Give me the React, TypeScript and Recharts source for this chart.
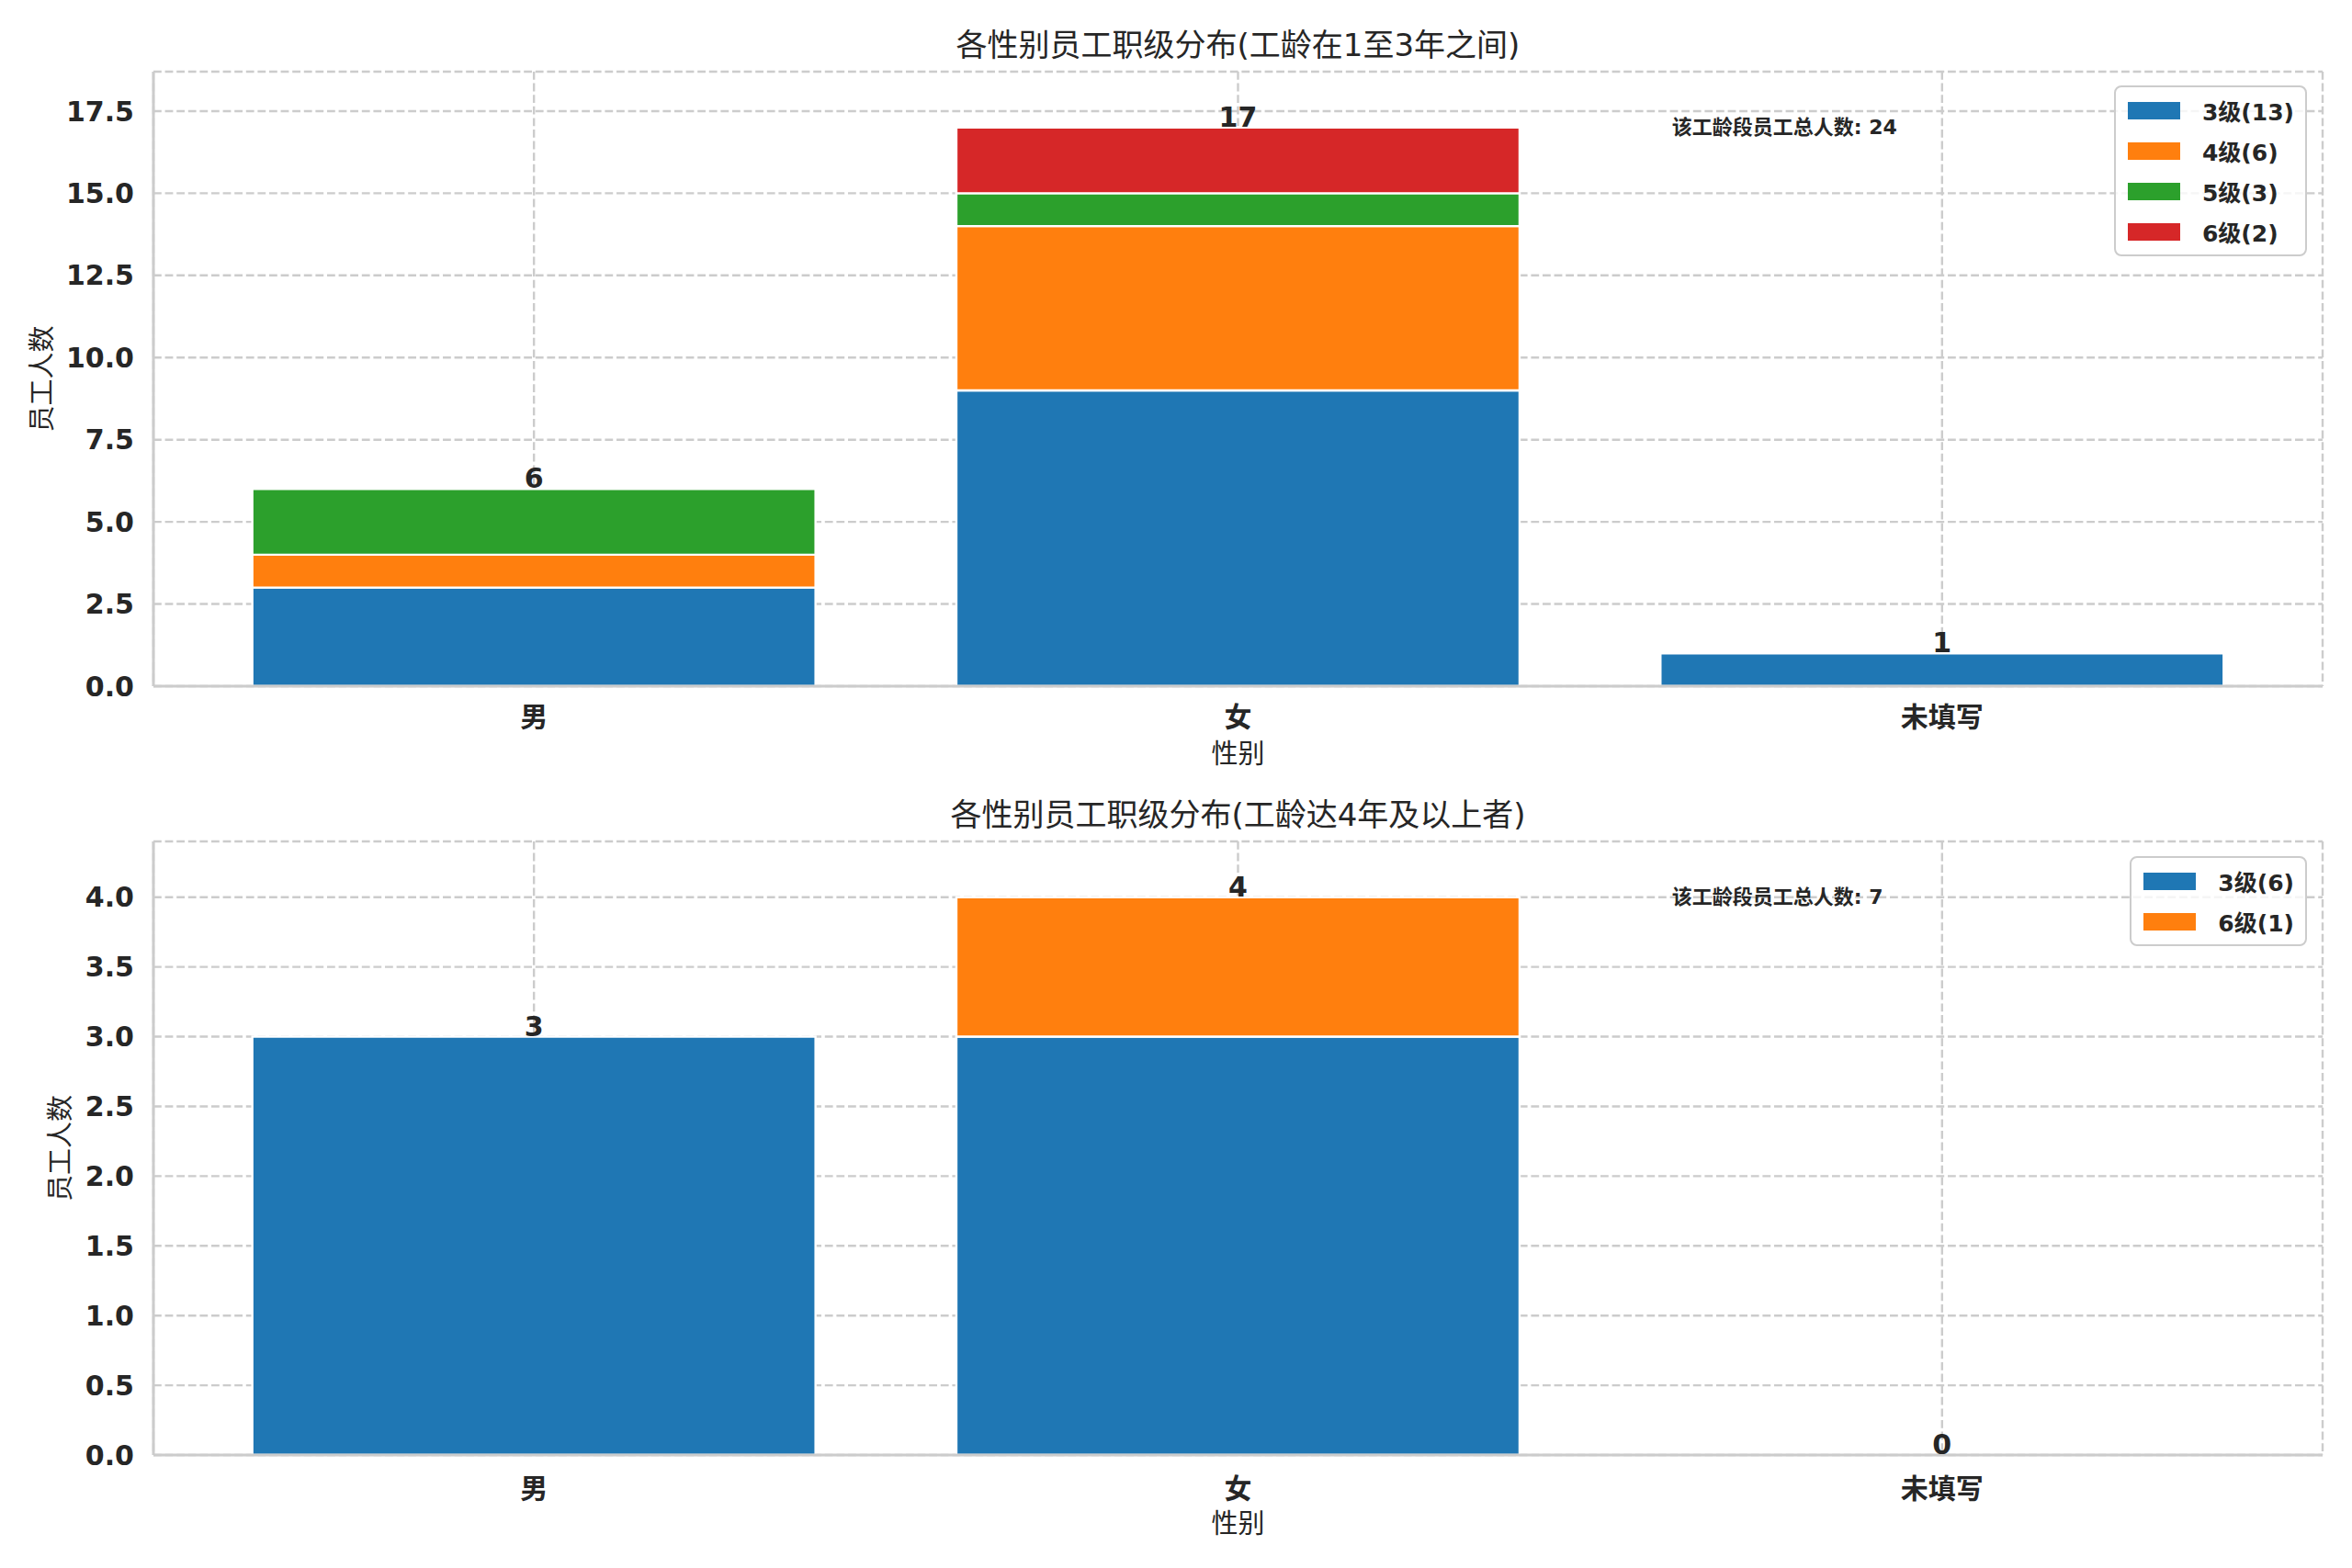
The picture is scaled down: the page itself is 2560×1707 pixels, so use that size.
import React from "react";
import { Bar, BarChart, CartesianGrid, Label, LabelList, Legend, ReferenceLine, XAxis, YAxis } from "recharts";

document.body.style.margin = "0";

const FONT = '"DejaVu Sans", "Noto Sans CJK SC", sans-serif';
const INK = "#262626";
const GRID = "#cccccc";
const PALETTE = ["#1f77b4", "#ff7f0e", "#2ca02c", "#d62728"];
const W = 2560;
const PLOT_LEFT = 167;
const RIGHT = 32;

const genders = ["男", "女", "未填写"];

// 工龄 1-3 年
const levelsA = ["3级", "4级", "5级", "6级"];
const countsA = [
  [3, 9, 1],
  [1, 5, 0],
  [2, 1, 0],
  [0, 2, 0],
];
const ticksA = [0, 2.5, 5, 7.5, 10, 12.5, 15, 17.5];

// 工龄 4 年及以上
const levelsB = ["3级", "6级"];
const countsB = [
  [3, 3, 0],
  [0, 1, 0],
];
const ticksB = [0, 0.5, 1, 1.5, 2, 2.5, 3, 3.5, 4];

function LegendBox({ payload }: any) {
  const items = (payload || []).filter((p: any) => p.type !== "none" && p.dataKey !== "cap");
  return (
    <div
      style={{
        background: "rgba(255,255,255,0.8)",
        border: `2.4px solid ${GRID}`,
        borderRadius: 8,
        padding: "3px 12px 3px 13px",
        fontFamily: FONT,
      }}
    >
      {items.map((p: any) => (
        <div key={p.value} style={{ display: "flex", alignItems: "center", height: 44 }}>
          <span style={{ width: 57, height: 19, background: p.color, marginRight: 24, flex: "none" }} />
          <span style={{ fontSize: 25, fontWeight: "bold", color: INK, whiteSpace: "nowrap" }}>{p.value}</span>
        </div>
      ))}
    </div>
  );
}

function TotalLabel({ x, y, width, value }: any) {
  return (
    <text x={x + width / 2} y={y - 1} textAnchor="middle" fontSize={30} fontWeight="bold" fill={INK} fontFamily={FONT}>
      {value}
    </text>
  );
}

function Panel({ title, levels, counts, ticks, height, marginTop, axisHeight, tickGap, xLabelGap, yLabelX, titleY, legendTop }: any) {
  const rows = genders.map((g, i) => {
    // cap: a hair-thin invisible segment on top of each stack that carries the total label
    const row: Record<string, any> = { name: g, total: 0, cap: 1e-6 };
    levels.forEach((lv: string, k: number) => {
      row[lv] = counts[k][i];
      row.total += counts[k][i];
    });
    return row;
  });
  const maxTotal = Math.max(...rows.map((r) => r.total));
  const grand = rows.reduce((s, r) => s + r.total, 0);
  const names = levels.map((lv: string, k: number) => `${lv}(${counts[k].reduce((a: number, b: number) => a + b, 0)})`);
  const pad = { left: 31, right: 31 };

  return (
    <div style={{ position: "relative", width: W, height }}>
      <div
        style={{
          position: "absolute",
          left: PLOT_LEFT,
          width: W - PLOT_LEFT - RIGHT,
          top: titleY,
          transform: "translateY(-50%)",
          textAlign: "center",
          fontSize: 34,
          lineHeight: 1,
          color: INK,
          fontFamily: FONT,
          zIndex: 2,
        }}
      >
        {title}
      </div>
      <BarChart width={W} height={height} data={rows} margin={{ top: marginTop, right: RIGHT, bottom: 0, left: 0 }}>
        <CartesianGrid stroke={GRID} strokeDasharray="8.8 3.8" strokeWidth={2.4} />
        <XAxis
          dataKey="name"
          height={axisHeight}
          padding={pad}
          tickLine={false}
          tickSize={0}
          tickMargin={0}
          axisLine={{ stroke: GRID, strokeWidth: 3 }}
          tick={({ x, y, payload }: any) => (
            <text x={x} y={y + tickGap} textAnchor="middle" dominantBaseline="central" fontSize={30} fontWeight="bold" fill={INK} fontFamily={FONT}>
              {payload.value}
            </text>
          )}
        >
          <Label
            content={({ viewBox }: any) => (
              <text
                x={viewBox.x + viewBox.width / 2}
                y={viewBox.y + xLabelGap}
                textAnchor="middle"
                dominantBaseline="central"
                fontSize={29}
                fill={INK}
                fontFamily={FONT}
              >
                性别
              </text>
            )}
          />
        </XAxis>
        <XAxis xAxisId="top" orientation="top" dataKey="name" height={0} padding={pad} tick={false} tickLine={false} axisLine={{ stroke: GRID, strokeWidth: 3 }} />
        <YAxis
          type="number"
          width={PLOT_LEFT}
          domain={[0, maxTotal * 1.1]}
          ticks={ticks}
          allowDataOverflow
          tickFormatter={(v: number) => v.toFixed(1)}
          tickLine={false}
          tickSize={0}
          tickMargin={21}
          axisLine={{ stroke: GRID, strokeWidth: 3 }}
          tick={{ fontSize: 30, fontWeight: "bold", fill: INK, fontFamily: FONT }}
        >
          <Label
            content={({ viewBox }: any) => {
              const cy = viewBox.y + viewBox.height / 2;
              return (
                <text
                  x={yLabelX}
                  y={cy}
                  transform={`rotate(-90 ${yLabelX} ${cy})`}
                  textAnchor="middle"
                  dominantBaseline="central"
                  fontSize={29}
                  fill={INK}
                  fontFamily={FONT}
                >
                  员工人数
                </text>
              );
            }}
          />
        </YAxis>
        <YAxis yAxisId="right" orientation="right" width={0} domain={[0, 1]} tick={false} tickLine={false} axisLine={{ stroke: GRID, strokeWidth: 3 }} />
        <Legend
          layout="vertical"
          align="center"
          verticalAlign="middle"
          content={<LegendBox />}
          wrapperStyle={{ top: legendTop, right: 49, left: "auto", width: "auto", height: "auto" }}
        />
        <ReferenceLine
          y={maxTotal}
          stroke="none"
          label={{
            content: ({ viewBox }: any) => (
              <text
                x={viewBox.x + viewBox.width * 0.7}
                y={viewBox.y}
                dominantBaseline="central"
                fontSize={22}
                fontWeight="bold"
                fill={INK}
                fontFamily={FONT}
              >
                {`该工龄段员工总人数: ${grand}`}
              </text>
            ),
          }}
        />
        {levels.map((lv: string, k: number) => (
          <Bar
            key={lv}
            dataKey={lv}
            name={names[k]}
            stackId="s"
            fill={PALETTE[k]}
            stroke="#ffffff"
            strokeWidth={2.4}
            barCategoryGap="10%"
            isAnimationActive={false}
          />
        ))}
        <Bar dataKey="cap" stackId="s" fill="none" stroke="none" legendType="none" isAnimationActive={false}>
          <LabelList dataKey="total" content={<TotalLabel />} />
        </Bar>
      </BarChart>
    </div>
  );
}

export default function App() {
  return (
    <div style={{ width: W, height: 1707, background: "#ffffff", fontFamily: FONT }}>
      <Panel
        title="各性别员工职级分布(工龄在1至3年之间)"
        levels={levelsA}
        counts={countsA}
        ticks={ticksA}
        height={853}
        marginTop={78}
        axisHeight={106}
        tickGap={33}
        xLabelGap={74}
        yLabelX={46}
        titleY={49}
        legendTop={93}
      />
      <Panel
        title="各性别员工职级分布(工龄达4年及以上者)"
        levels={levelsB}
        counts={countsB}
        ticks={ticksB}
        height={854}
        marginTop={63}
        axisHeight={123}
        tickGap={36}
        xLabelGap={75}
        yLabelX={66}
        titleY={34}
        legendTop={79}
      />
    </div>
  );
}
